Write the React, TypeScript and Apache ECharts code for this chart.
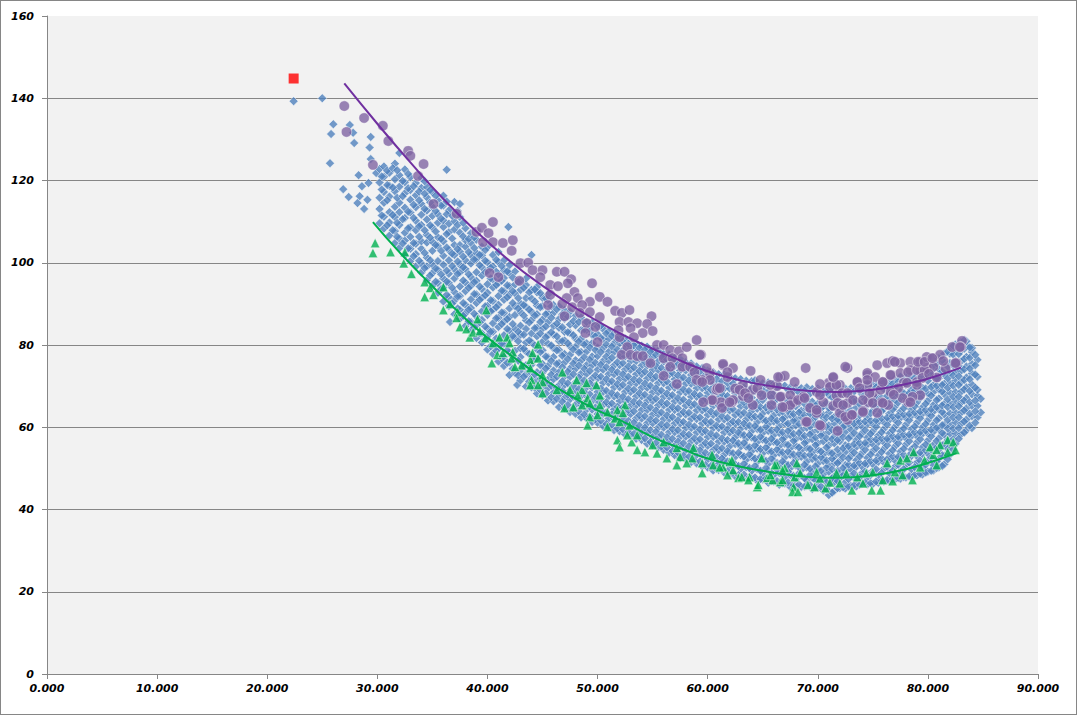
import React, { useEffect, useRef } from "react";
import * as echarts from "echarts";

const xTickValues = [0, 10, 20, 30, 40, 50, 60, 70, 80, 90];
const yTickValues = [0, 20, 40, 60, 80, 100, 120, 140, 160];

const redPoints: [number, number][] = [[22.4, 144.8]];

const blueSparse: [number, number][] = [
  [22.4, 139.3], [25.0, 140.0], [25.7, 124.2], [25.8, 131.3], [26.0, 133.7],
  [26.9, 117.9], [27.4, 116.0], [27.5, 133.5], [27.8, 131.6], [27.9, 129.1],
  [28.2, 114.5], [28.3, 121.3], [28.4, 116.2], [28.6, 118.6], [28.8, 113.1],
  [29.1, 115.3], [29.2, 119.4], [29.3, 128.0], [29.4, 130.6], [29.4, 125.2],
  [29.9, 121.8], [36.6, 85.6], [41.9, 108.7], [36.3, 122.6], [42.7, 70.3],
];

const blueColumns: [number, number[]][] = [
  [30.2, [109.6, 113.1, 115.8, 119.5, 122.8]],
  [30.6, [108.3, 111.2, 114.6, 117.2, 120.9, 123.4]],
  [31.1, [106.6, 109.8, 112.3, 116.1, 118.7, 121.9]],
  [31.6, [104.8, 107.7, 111.1, 113.6, 117.4, 120.3, 124.1]],
  [32.0, [103.6, 105.9, 109.2, 112.3, 114.6, 118.5, 121.3, 126.7]],
  [32.5, [101.8, 105.4, 107.3, 110.9, 113.4, 116.9, 119.6, 122.7]],
  [33.0, [100.4, 103.4, 106.3, 108.6, 112.2, 115.3, 117.7, 120.8]],
  [33.5, [99.1, 102.1, 104.6, 107.9, 110.2, 113.5, 116.4, 119.4]],
  [34.0, [97.6, 99.8, 103.4, 105.2, 109.2, 111.7, 114.3, 118.2, 120.6]],
  [34.5, [95.8, 99.1, 101.3, 104.9, 106.8, 110.5, 112.7, 115.9, 118.4]],
  [35.0, [94.4, 97.5, 99.6, 102.9, 105.1, 108.6, 111.4, 113.6, 117.2]],
  [35.5, [92.7, 95.1, 98.3, 100.4, 104.1, 106.2, 109.7, 111.8, 115.2]],
  [36.0, [90.6, 93.9, 96.2, 99.5, 101.7, 105.2, 108.7, 110.3, 113.9, 116.3]],
  [36.5, [89.5, 91.6, 95.1, 97.3, 100.6, 103.1, 107.4, 109.5, 112.7]],
  [37.0, [87.5, 90.8, 92.9, 96.2, 98.4, 101.9, 104.3, 108.1, 110.1, 114.8]],
  [37.5, [86.4, 88.6, 91.9, 94.2, 97.6, 99.5, 102.7, 104.3, 107.3, 111.1, 114.3]],
  [38.0, [84.6, 87.7, 89.8, 93.1, 95.2, 98.5, 100.6, 103.9, 105.5, 108.4]],
  [38.5, [83.5, 85.6, 89.0, 91.1, 94.4, 96.5, 99.8, 101.9, 104.8, 107.2]],
  [39.0, [81.7, 84.9, 86.9, 90.2, 92.3, 95.6, 97.7, 100.9, 102.4, 105.6]],
  [39.5, [80.6, 82.8, 86.1, 88.2, 91.5, 93.6, 96.9, 98.9, 101.8, 103.9]],
  [40.0, [78.9, 82.1, 84.0, 87.3, 89.5, 92.7, 94.8, 98.0, 100.1, 103.8]],
  [40.5, [77.8, 80.0, 83.2, 85.3, 88.6, 90.7, 94.0, 96.0, 99.1, 101.9]],
  [41.0, [76.0, 79.1, 81.2, 84.4, 86.6, 89.8, 91.9, 95.1, 97.2, 100.2, 102.6]],
  [41.5, [74.9, 77.1, 80.3, 82.4, 85.7, 87.8, 91.0, 93.1, 96.3, 98.2, 100.6]],
  [42.0, [72.7, 75.8, 78.1, 81.3, 83.5, 86.8, 88.9, 92.2, 94.3, 97.5, 99.4]],
  [42.5, [73.2, 76.4, 78.6, 81.9, 84.0, 87.3, 89.4, 92.6, 94.7, 97.9]],
  [43.0, [71.4, 73.8, 77.1, 79.2, 82.5, 84.7, 88.0, 90.1, 93.4, 95.6]],
  [43.5, [69.9, 72.9, 75.1, 78.4, 80.6, 83.9, 86.0, 89.3, 91.4, 94.6, 96.2]],
  [44.0, [69.7, 72.0, 75.2, 77.4, 80.7, 82.8, 86.1, 88.1, 91.3, 93.4, 101.9]],
  [44.5, [68.2, 71.3, 73.4, 76.7, 78.9, 82.1, 84.2, 87.5, 89.6, 92.8, 94.1]],
  [45.0, [67.8, 70.0, 73.3, 75.4, 78.7, 80.8, 84.0, 86.2, 89.4, 91.5]],
  [45.5, [66.5, 69.5, 71.6, 74.9, 77.0, 80.3, 82.4, 85.6, 87.8, 91.0, 92.3]],
  [46.0, [66.3, 68.4, 71.7, 73.8, 77.1, 79.2, 82.5, 84.6, 87.8, 89.7]],
  [46.5, [64.9, 68.0, 70.2, 73.4, 75.6, 78.8, 81.0, 84.2, 86.3, 89.4]],
  [47.0, [64.7, 67.1, 70.3, 72.4, 75.7, 77.8, 81.1, 83.2, 86.4, 88.5]],
  [47.5, [63.7, 66.8, 68.9, 72.2, 74.3, 77.6, 79.7, 82.9, 85.0, 88.1]],
  [48.0, [63.3, 65.5, 68.8, 70.9, 74.2, 76.3, 79.6, 81.6, 84.8, 87.1]],
  [48.5, [62.4, 65.4, 67.6, 70.8, 73.0, 76.2, 78.3, 81.5, 83.6, 86.7]],
  [49.0, [62.2, 64.3, 67.6, 69.7, 73.0, 75.1, 78.4, 80.4, 83.7, 85.6]],
  [49.5, [61.3, 64.3, 66.4, 69.7, 71.8, 75.1, 77.2, 80.4, 82.5, 85.4]],
  [50.0, [61.1, 63.2, 66.5, 68.6, 71.9, 74.0, 77.3, 79.4, 82.6, 84.5]],
  [50.5, [60.3, 63.2, 65.4, 68.6, 70.8, 74.0, 76.1, 79.3, 81.4, 83.9]],
  [51.0, [60.0, 62.1, 65.4, 67.5, 70.8, 72.9, 76.2, 78.3, 81.5, 83.3]],
  [51.5, [59.3, 62.1, 64.3, 67.5, 69.7, 72.9, 75.0, 78.3, 80.4, 82.9]],
  [52.0, [59.0, 61.0, 64.3, 66.4, 69.7, 71.8, 75.1, 77.2, 80.4, 82.1]],
  [52.5, [58.3, 60.9, 63.2, 66.4, 68.6, 71.8, 74.0, 77.2, 79.3, 81.6]],
  [53.0, [58.0, 59.9, 63.2, 65.3, 68.6, 70.7, 74.0, 76.1, 79.3, 80.9]],
  [53.5, [57.2, 59.8, 62.1, 65.3, 67.5, 70.7, 72.9, 76.1, 78.2, 80.5]],
  [54.0, [56.9, 58.8, 62.1, 64.2, 67.5, 69.6, 72.9, 75.0, 78.2, 79.8]],
  [54.5, [56.0, 58.7, 61.0, 64.2, 66.4, 69.6, 71.8, 75.0, 77.1, 79.6]],
  [55.0, [55.7, 57.7, 61.0, 63.1, 66.4, 68.5, 71.8, 73.9, 77.1, 78.9]],
  [55.5, [55.0, 57.6, 59.9, 63.1, 65.3, 68.5, 70.7, 73.9, 76.0, 78.6]],
  [56.0, [54.5, 56.6, 59.9, 62.0, 65.3, 67.4, 70.7, 72.8, 76.0, 77.9]],
  [56.5, [53.8, 56.5, 58.8, 62.0, 64.2, 67.4, 69.6, 72.8, 74.9, 77.6]],
  [57.0, [53.2, 55.5, 58.8, 60.9, 64.2, 66.3, 69.6, 71.7, 74.9, 76.9]],
  [57.5, [52.5, 55.4, 57.7, 60.9, 63.1, 66.3, 68.5, 71.7, 73.8, 76.6]],
  [58.0, [52.2, 54.4, 57.7, 59.8, 63.1, 65.2, 68.5, 70.6, 73.8, 75.8]],
  [58.5, [51.5, 54.3, 56.6, 59.8, 62.0, 65.2, 67.4, 70.6, 72.7, 75.5]],
  [59.0, [51.2, 53.3, 56.6, 58.7, 62.0, 64.1, 67.4, 69.5, 72.7, 74.8]],
  [59.5, [50.5, 53.2, 55.5, 58.7, 60.9, 64.1, 66.3, 69.5, 71.6, 74.4]],
  [60.0, [50.2, 52.2, 55.5, 57.6, 60.9, 63.0, 66.3, 68.4, 71.6, 73.8]],
  [60.5, [49.5, 52.1, 54.4, 57.6, 59.8, 63.0, 65.2, 68.4, 70.5, 73.4]],
  [61.0, [49.6, 51.1, 54.4, 56.5, 59.8, 61.9, 65.2, 67.3, 70.5, 72.9]],
  [61.5, [49.0, 51.7, 53.3, 56.5, 58.7, 61.9, 64.1, 67.3, 69.4, 72.8]],
  [62.0, [48.7, 50.6, 53.9, 55.4, 58.7, 60.8, 64.1, 66.2, 69.4, 72.3]],
  [62.5, [48.1, 50.9, 52.8, 55.9, 57.6, 60.8, 63.0, 66.2, 68.3, 71.9]],
  [63.0, [48.2, 49.9, 53.2, 55.3, 58.3, 59.7, 63.0, 65.1, 68.3, 71.7]],
  [63.5, [47.5, 50.3, 52.1, 55.3, 57.2, 60.2, 61.9, 65.1, 67.2, 71.3]],
  [64.0, [47.7, 49.4, 52.7, 54.2, 57.5, 59.1, 62.4, 64.0, 67.2, 71.2]],
  [64.5, [47.0, 49.8, 51.6, 54.8, 56.4, 59.6, 61.3, 64.5, 66.1, 70.8]],
  [65.0, [47.3, 48.9, 52.2, 53.7, 57.0, 58.6, 61.9, 63.4, 66.6, 69.1, 70.7]],
  [65.5, [46.5, 49.4, 51.1, 54.3, 55.9, 59.1, 60.8, 64.0, 65.5, 68.6, 70.9]],
  [66.0, [46.8, 48.4, 51.7, 53.2, 56.5, 58.1, 61.4, 62.9, 66.1, 68.1, 70.6]],
  [66.5, [46.0, 48.9, 50.6, 53.8, 55.4, 58.6, 60.3, 63.5, 65.0, 67.6, 70.2]],
  [67.0, [46.3, 47.9, 51.2, 52.7, 56.0, 57.6, 60.9, 62.4, 65.6, 67.1, 70.1]],
  [67.5, [45.5, 48.4, 50.1, 53.3, 54.9, 58.1, 59.8, 63.0, 64.5, 66.6, 69.7]],
  [68.0, [45.8, 47.4, 50.7, 52.2, 55.5, 57.1, 60.4, 61.9, 65.1, 66.1, 69.6]],
  [68.5, [45.5, 48.2, 49.6, 52.8, 54.4, 57.6, 59.3, 62.5, 64.0, 67.2, 69.5]],
  [69.0, [45.8, 47.1, 50.2, 51.7, 55.0, 56.6, 59.9, 61.4, 64.6, 66.7, 69.7]],
  [69.5, [45.0, 47.7, 49.1, 52.3, 53.9, 57.1, 58.8, 62.0, 63.5, 66.2, 69.3]],
  [70.0, [45.3, 46.6, 49.7, 51.2, 54.5, 56.1, 59.4, 60.9, 64.1, 65.7, 69.4]],
  [70.5, [44.6, 47.2, 48.6, 51.8, 53.4, 56.6, 58.3, 61.5, 63.0, 65.2, 68.9]],
  [71.0, [43.5, 46.1, 49.2, 50.7, 54.0, 55.6, 58.9, 60.4, 63.6, 64.7, 67.8, 70.0]],
  [71.5, [44.5, 46.7, 48.1, 51.3, 52.9, 56.1, 57.8, 61.0, 62.5, 65.7, 68.7]],
  [72.0, [45.2, 47.6, 48.7, 51.8, 53.5, 56.6, 58.4, 61.5, 63.1, 66.3, 69.3]],
  [72.5, [45.1, 46.6, 49.3, 50.8, 54.0, 55.6, 58.9, 60.4, 63.6, 65.2, 69.4]],
  [73.0, [45.7, 48.2, 49.8, 53.1, 54.6, 57.9, 59.5, 62.6, 64.2, 67.4, 69.5]],
  [73.5, [45.6, 47.2, 50.4, 52.0, 55.2, 56.9, 60.1, 61.6, 64.8, 66.4, 69.6]],
  [74.0, [46.2, 48.8, 50.5, 53.7, 55.3, 58.5, 60.2, 63.4, 64.9, 68.1, 69.8]],
  [74.5, [46.1, 47.8, 51.0, 52.6, 55.8, 57.5, 60.7, 62.3, 65.5, 67.1, 70.2]],
  [75.0, [46.2, 49.4, 51.0, 54.2, 55.9, 59.1, 60.8, 64.0, 65.6, 68.8, 70.3]],
  [75.5, [46.5, 48.3, 51.6, 53.1, 56.4, 58.0, 61.3, 62.8, 66.0, 67.6, 70.7]],
  [76.0, [46.8, 49.9, 51.5, 54.8, 56.4, 59.6, 61.3, 64.5, 66.1, 69.3, 70.8]],
  [76.5, [47.0, 48.8, 52.1, 53.6, 56.9, 58.5, 61.8, 63.3, 66.6, 68.1, 71.3]],
  [77.0, [47.3, 50.4, 52.0, 55.3, 56.9, 60.1, 61.8, 65.0, 66.6, 69.8, 71.8]],
  [77.5, [47.5, 49.2, 52.5, 54.1, 57.4, 59.0, 62.3, 63.8, 67.1, 68.6, 72.3]],
  [78.0, [47.8, 50.9, 52.5, 55.8, 57.4, 60.6, 62.3, 65.5, 67.1, 70.3, 72.2]],
  [78.5, [48.0, 49.8, 53.0, 54.6, 57.9, 59.5, 62.8, 64.3, 67.6, 69.1, 72.7]],
  [79.0, [48.3, 51.4, 53.0, 56.3, 57.9, 61.1, 62.8, 66.0, 67.6, 70.8, 72.8]],
  [79.5, [48.5, 50.3, 53.5, 55.1, 58.4, 60.0, 63.3, 64.8, 68.1, 69.6, 73.3]],
  [80.0, [49.2, 51.9, 53.6, 56.8, 58.5, 61.7, 63.3, 66.5, 68.2, 71.3, 73.8]],
  [80.5, [49.5, 50.8, 54.1, 55.7, 58.9, 60.6, 63.8, 65.4, 68.6, 70.2, 72.6, 74.9]],
  [81.0, [50.2, 52.4, 54.6, 57.3, 59.5, 62.2, 64.4, 67.0, 69.2, 71.9, 74.1, 76.8]],
  [81.5, [51.0, 53.1, 55.8, 58.2, 60.6, 63.1, 65.7, 68.0, 70.6, 72.8, 75.4, 77.9]],
  [82.0, [53.3, 55.6, 58.4, 60.7, 63.4, 65.8, 68.4, 70.7, 73.3, 75.6, 77.9, 79.1]],
  [82.5, [56.0, 58.5, 61.2, 63.6, 66.3, 68.6, 71.3, 73.6, 76.2, 78.6, 80.1]],
  [83.0, [58.3, 60.8, 63.5, 66.0, 68.6, 71.0, 73.7, 76.0, 78.6, 80.7]],
  [83.5, [59.4, 61.9, 64.6, 67.1, 69.7, 72.1, 74.8, 77.1, 79.7, 80.9]],
  [84.0, [59.8, 62.7, 65.2, 68.0, 70.4, 73.1, 75.4, 78.3, 79.3]],
  [84.5, [62.4, 65.2, 67.6, 69.1, 72.3, 76.4]],
  [84.8, [63.6, 66.9]],
];

const blueFillColumns: [number, number[]][] = [
  [30.4, [111.5, 117.8, 121.0]],
  [30.9, [109.1, 115.2, 118.9, 122.4]],
  [31.4, [107.9, 111.6, 118.3, 123.0]],
  [31.8, [106.3, 109.7, 115.8, 122.5]],
  [32.3, [104.7, 110.6, 116.2, 119.9]],
  [32.8, [103.5, 108.4, 112.4, 118.1, 121.6]],
  [33.3, [101.6, 104.8, 110.9, 114.1, 118.6]],
  [33.8, [100.5, 106.3, 108.9, 115.2, 117.3]],
  [34.3, [98.7, 102.4, 107.9, 113.1, 116.8, 119.8]],
  [34.8, [96.9, 100.6, 106.1, 109.1, 114.7, 117.7]],
  [35.3, [95.4, 98.6, 104.3, 107.6, 112.6, 116.3]],
  [35.8, [93.6, 97.2, 102.9, 105.8, 110.7, 113.9]],
  [36.3, [92.2, 95.4, 98.1, 103.7, 107.0, 111.8, 114.9]],
  [36.8, [90.1, 93.9, 99.2, 102.2, 105.9, 111.4]],
  [37.3, [88.9, 91.8, 97.3, 100.3, 103.3, 109.2, 112.6]],
  [37.8, [87.1, 90.2, 95.7, 98.9, 101.5, 106.4, 109.7]],
  [38.3, [85.8, 88.6, 93.9, 97.2, 102.6, 105.8]],
  [38.8, [84.3, 87.6, 92.4, 95.3, 100.8, 103.6, 106.2]],
  [39.3, [82.8, 85.5, 91.0, 94.2, 99.4, 101.9]],
  [39.8, [81.4, 84.5, 89.4, 92.1, 97.7, 100.5, 103.1]],
  [40.3, [79.7, 83.2, 88.2, 90.9, 96.2, 98.8]],
  [40.8, [78.6, 81.6, 86.5, 89.2, 94.6, 97.8, 100.7]],
  [41.3, [76.8, 80.4, 85.1, 87.9, 93.2, 95.6, 99.2]],
  [41.8, [75.7, 78.7, 83.9, 86.3, 91.6, 94.5, 97.9]],
  [42.3, [74.2, 77.3, 82.2, 85.1, 90.2, 93.1, 96.4]],
  [42.8, [72.6, 76.2, 80.9, 83.2, 88.9, 91.4, 95.3]],
  [43.3, [72.3, 74.8, 79.1, 82.5, 87.2, 89.7, 93.9]],
  [43.8, [71.1, 73.7, 77.8, 81.1, 85.5, 88.6, 92.8]],
  [44.3, [69.6, 72.9, 76.5, 79.9, 84.1, 87.2, 90.6, 93.5]],
  [44.8, [69.1, 71.7, 75.1, 78.3, 82.8, 85.6, 89.2, 92.6]],
  [45.3, [68.2, 70.9, 74.3, 77.2, 81.9, 84.5, 87.5, 91.3]],
  [45.8, [67.3, 70.1, 72.8, 76.1, 79.9, 83.1, 86.6, 89.4]],
  [46.3, [66.9, 69.6, 72.3, 75.4, 78.7, 82.1, 85.2, 88.7]],
  [46.8, [66.2, 68.8, 71.2, 74.6, 77.4, 80.9, 84.3, 87.5]],
  [47.3, [65.4, 67.9, 70.7, 73.5, 76.6, 80.4, 83.1, 86.9]],
  [47.8, [64.5, 67.4, 70.0, 72.9, 75.5, 78.9, 82.4, 85.8]],
  [48.3, [63.9, 66.5, 69.3, 72.1, 75.0, 78.2, 80.8, 85.6]],
  [48.8, [63.1, 65.9, 68.5, 71.4, 74.2, 77.0, 80.1, 83.8]],
  [49.3, [62.6, 65.1, 68.0, 70.7, 73.7, 76.4, 79.4, 83.9]],
  [49.8, [61.9, 64.8, 67.3, 70.1, 72.6, 75.7, 78.8, 82.1]],
  [50.3, [61.6, 64.2, 66.9, 69.4, 72.3, 75.2, 78.3, 81.7, 84.7]],
  [50.8, [60.8, 63.6, 66.1, 68.9, 71.7, 74.6, 77.2, 80.1, 82.8]],
  [51.3, [60.6, 63.1, 65.8, 68.3, 71.2, 74.0, 76.9, 79.6, 82.2]],
  [51.8, [59.7, 62.8, 65.0, 67.8, 70.5, 73.4, 75.8, 78.9, 81.3]],
  [52.3, [59.5, 62.2, 64.8, 67.4, 70.3, 72.9, 75.6, 78.6, 80.9]],
  [52.8, [58.8, 61.6, 64.2, 66.8, 69.4, 72.3, 74.8, 77.9, 80.3]],
  [53.3, [58.4, 61.1, 63.9, 66.2, 69.1, 71.6, 74.5, 77.3, 79.9]],
  [53.8, [57.6, 60.4, 62.9, 65.9, 68.3, 71.3, 73.7, 76.7, 79.3]],
  [54.3, [57.3, 59.9, 62.7, 65.3, 67.9, 70.6, 73.5, 75.9, 78.8]],
  [54.8, [56.4, 59.3, 61.9, 64.8, 67.2, 70.1, 72.7, 75.6, 78.3]],
  [55.3, [56.2, 58.9, 61.6, 64.1, 66.9, 69.5, 72.3, 74.9, 77.6]],
  [55.8, [55.3, 58.2, 60.7, 63.6, 66.1, 68.9, 71.5, 74.4, 77.2]],
  [56.3, [55.1, 57.6, 60.5, 62.9, 65.8, 68.2, 71.1, 73.8, 76.5]],
  [56.8, [54.2, 57.2, 59.6, 62.5, 64.9, 67.8, 70.3, 73.2, 76.1]],
  [57.3, [53.9, 56.5, 59.3, 61.7, 64.6, 67.1, 69.9, 72.6, 75.4]],
  [57.8, [53.1, 56.1, 58.4, 61.3, 63.7, 66.7, 69.2, 72.1, 74.9]],
  [58.3, [52.8, 55.4, 58.2, 60.6, 63.5, 66.0, 68.8, 71.4, 74.3]],
  [58.8, [51.9, 54.9, 57.3, 60.2, 62.6, 65.6, 68.1, 70.9, 73.8]],
  [59.3, [51.7, 54.4, 57.1, 59.5, 62.4, 64.9, 67.7, 70.3, 73.3]],
  [59.8, [50.8, 53.8, 56.2, 59.1, 61.5, 64.5, 67.0, 69.8, 72.7]],
  [60.3, [50.6, 53.3, 56.0, 58.4, 61.3, 63.8, 66.6, 69.2, 72.3]],
  [60.8, [49.9, 52.7, 55.1, 58.0, 60.4, 63.4, 65.9, 68.7, 71.7]],
  [61.3, [49.7, 52.4, 54.9, 57.3, 60.2, 62.7, 65.5, 68.1, 71.2]],
  [61.8, [49.3, 51.7, 54.2, 56.9, 59.5, 62.3, 64.8, 67.6, 70.8]],
  [62.3, [48.9, 51.5, 53.7, 56.8, 59.2, 61.4, 64.4, 66.9, 70.6]],
  [62.8, [48.4, 50.6, 53.8, 56.1, 58.7, 61.3, 63.6, 66.7, 69.9]],
  [63.3, [48.5, 51.1, 52.9, 56.2, 58.1, 60.9, 63.5, 66.1, 69.7]],
  [63.8, [47.9, 50.1, 53.4, 55.1, 58.1, 60.4, 62.9, 65.8, 69.1]],
  [64.3, [47.8, 50.6, 52.4, 55.6, 57.2, 60.3, 62.6, 65.2, 68.8, 71.4]],
  [64.8, [47.4, 49.4, 52.8, 54.7, 57.7, 59.4, 62.6, 64.9, 68.2]],
  [65.3, [47.6, 50.1, 51.8, 55.1, 56.8, 60.1, 61.6, 64.8, 67.6, 70.4]],
  [65.8, [46.9, 48.9, 52.4, 54.1, 57.2, 59.2, 62.1, 64.5, 67.2]],
  [66.3, [46.9, 49.7, 51.3, 54.6, 56.3, 59.4, 61.6, 64.3, 66.9, 69.8]],
  [66.8, [46.4, 48.6, 51.7, 53.9, 57.1, 58.8, 62.0, 63.8, 66.4]],
  [67.3, [46.6, 49.2, 50.8, 54.1, 55.7, 59.1, 60.9, 63.9, 66.2, 69.1]],
  [67.8, [45.9, 48.2, 51.3, 53.4, 56.7, 58.4, 61.6, 63.2, 65.6, 68.8]],
  [68.3, [46.1, 48.8, 50.3, 53.5, 55.1, 58.6, 60.8, 63.6, 65.9, 68.4]],
  [68.8, [45.6, 47.6, 50.9, 53.1, 56.2, 57.9, 61.2, 62.9, 65.7, 68.9]],
  [69.3, [45.9, 48.4, 49.9, 53.3, 54.7, 58.3, 60.2, 63.3, 65.4, 68.2]],
  [69.8, [45.4, 47.1, 50.5, 52.6, 55.7, 57.5, 60.7, 62.5, 65.3, 68.3]],
  [70.3, [45.6, 48.1, 49.4, 52.7, 54.1, 58.0, 59.7, 62.9, 64.6, 67.9]],
  [70.8, [44.9, 46.6, 50.2, 51.9, 55.1, 57.3, 60.1, 62.4, 65.9, 68.5]],
  [71.3, [44.1, 47.6, 49.8, 52.4, 53.7, 57.1, 59.4, 62.1, 64.8, 67.3, 69.4]],
  [71.8, [45.2, 46.9, 49.5, 51.3, 54.6, 56.9, 59.7, 61.9, 64.9, 67.8]],
  [72.3, [45.4, 48.3, 50.1, 52.7, 54.9, 57.6, 60.1, 62.5, 65.1, 68.1]],
  [72.8, [45.6, 47.4, 50.9, 52.4, 55.4, 57.3, 60.9, 62.6, 66.1, 68.6]],
  [73.3, [45.9, 48.8, 50.7, 53.8, 55.9, 58.6, 60.9, 63.4, 66.2, 68.7]],
  [73.8, [46.0, 47.8, 51.3, 52.9, 56.2, 57.8, 61.3, 62.9, 65.7, 68.9]],
  [74.3, [46.5, 49.3, 51.2, 54.5, 56.2, 59.3, 61.4, 64.2, 66.8, 69.2]],
  [74.8, [46.4, 48.4, 51.8, 53.4, 57.0, 58.4, 61.6, 63.4, 66.6, 69.5]],
  [75.3, [46.8, 49.8, 51.9, 54.9, 57.0, 60.1, 61.7, 65.0, 67.0, 69.7]],
  [75.8, [47.0, 48.9, 52.4, 54.0, 57.3, 58.8, 62.2, 63.9, 67.1, 69.9]],
  [76.3, [47.2, 50.4, 52.2, 55.6, 57.2, 60.6, 62.3, 65.3, 67.6, 70.3]],
  [76.8, [47.4, 49.4, 52.9, 54.4, 57.8, 59.3, 62.7, 64.3, 67.8, 70.6]],
  [77.3, [47.7, 50.9, 52.8, 56.1, 57.7, 61.1, 62.8, 66.0, 67.9, 71.0]],
  [77.8, [47.9, 49.8, 53.3, 54.8, 58.2, 59.7, 63.1, 64.6, 68.3, 71.4]],
  [78.3, [48.1, 51.4, 53.2, 56.6, 58.2, 61.7, 63.2, 66.6, 68.3, 71.7]],
  [78.8, [48.4, 50.3, 53.7, 55.3, 58.8, 60.2, 63.6, 65.1, 68.9, 71.9]],
  [79.3, [48.7, 51.9, 53.9, 57.1, 58.8, 62.2, 63.8, 67.1, 68.9, 72.4]],
  [79.8, [49.0, 50.9, 54.4, 55.8, 59.2, 60.8, 64.2, 65.7, 69.4, 72.8]],
  [80.3, [49.4, 52.6, 54.6, 57.8, 59.4, 62.8, 64.4, 67.7, 69.8, 73.6]],
  [80.8, [50.1, 51.7, 55.1, 56.7, 59.9, 61.7, 64.9, 66.6, 70.1, 71.9, 75.5]],
  [81.3, [50.6, 53.2, 55.6, 58.6, 60.5, 63.7, 65.3, 68.7, 70.3, 73.6, 76.3]],
  [81.8, [52.2, 54.8, 56.9, 59.7, 61.8, 64.9, 66.8, 69.6, 71.9, 74.8, 78.4]],
  [82.3, [54.6, 57.1, 59.7, 62.4, 64.9, 67.4, 70.1, 72.6, 75.1, 77.7, 79.8]],
  [82.8, [57.2, 59.8, 62.4, 65.1, 67.4, 70.3, 72.4, 74.9, 77.8, 80.3]],
  [83.3, [58.7, 61.4, 64.1, 66.5, 69.2, 71.5, 74.1, 76.6, 79.1, 81.2]],
  [83.8, [60.4, 63.3, 66.1, 68.8, 71.7, 74.3, 76.9, 79.4]],
  [84.3, [61.1, 63.9, 66.5, 69.6, 72.8, 75.1, 77.6]],
];

const purplePoints: [number, number][] = [
  [27.0, 138.1], [27.2, 131.8], [28.8, 135.2], [30.5, 133.3], [31.0, 129.6], [32.8, 127.2],
  [33.0, 126.0], [29.6, 123.8], [34.2, 124.0], [33.7, 121.1], [35.1, 114.3], [37.2, 111.9],
  [39.0, 107.5], [39.5, 108.5], [40.5, 109.9], [40.1, 107.2], [39.6, 105.0], [40.5, 105.0],
  [41.4, 104.8], [42.3, 105.5], [42.2, 102.9], [40.2, 97.5], [41.0, 96.5], [43.0, 99.9],
  [43.7, 100.0], [44.1, 98.2], [45.0, 98.2], [42.9, 95.6], [44.8, 96.5], [46.3, 97.8],
  [47.0, 97.8], [47.6, 96.0], [45.7, 94.6], [47.3, 95.0], [46.4, 94.3], [49.5, 95.0],
  [47.9, 92.9], [45.7, 92.2], [47.2, 91.4], [48.2, 91.4], [49.3, 90.5], [50.2, 91.7],
  [50.9, 90.5], [45.5, 89.7], [46.8, 90.0], [47.7, 89.2], [48.6, 89.7], [48.4, 87.8],
  [49.3, 88.0], [50.2, 86.8], [47.0, 87.0], [49.0, 85.3], [49.8, 84.4], [48.9, 82.9],
  [50.0, 80.7], [51.6, 88.3], [52.2, 87.8], [52.9, 88.5], [54.9, 87.0], [52.0, 85.6],
  [52.8, 85.6], [53.6, 85.3], [54.5, 85.1], [51.9, 83.6], [53.0, 84.1], [55.0, 83.4],
  [54.1, 82.9], [52.0, 81.9], [53.3, 81.9], [52.7, 79.5], [52.2, 77.6], [53.0, 77.6],
  [53.6, 77.3], [54.1, 77.3], [54.8, 75.6], [55.4, 80.0], [56.0, 80.0], [56.6, 78.8],
  [57.4, 78.5], [58.1, 79.5], [59.0, 81.2], [59.4, 77.6], [56.0, 76.8], [56.8, 76.8],
  [57.7, 76.8], [56.6, 74.7], [57.7, 74.7], [58.4, 74.7], [56.0, 72.5], [57.2, 70.5],
  [58.8, 73.4], [59.5, 71.5], [60.2, 73.2], [60.8, 69.1], [60.5, 66.6], [61.2, 66.1],
  [62.2, 66.1], [61.4, 75.1], [62.3, 74.4], [61.8, 72.2], [63.9, 73.7], [60.9, 69.5],
  [61.3, 64.7], [63.2, 70.3], [64.1, 69.1], [63.2, 67.6], [64.1, 65.4], [66.6, 72.2],
  [67.0, 72.5], [67.9, 71.0], [68.9, 74.4], [66.3, 70.0], [65.8, 67.8], [66.7, 67.4],
  [67.8, 66.1], [68.7, 67.4], [65.8, 65.4], [67.0, 64.9], [69.3, 64.7], [69.9, 63.5],
  [68.9, 61.3], [70.3, 60.3], [71.8, 59.1], [69.9, 68.6], [70.5, 66.1], [71.0, 70.8],
  [71.4, 72.0], [72.0, 70.3], [72.7, 74.4], [71.7, 67.8], [72.7, 65.9], [71.4, 65.2],
  [72.0, 63.5], [73.1, 63.0], [72.7, 61.8], [73.6, 71.0], [74.5, 72.7], [75.4, 75.1],
  [76.3, 75.6], [76.8, 76.1], [77.5, 75.6], [78.4, 75.9], [79.3, 75.9], [79.9, 77.1],
  [80.5, 76.8], [81.1, 77.6], [82.2, 79.5], [83.1, 81.0], [83.0, 79.5], [82.6, 75.6],
  [74.5, 70.3], [75.0, 68.3], [75.9, 71.0], [76.7, 72.7], [77.5, 73.2], [78.4, 73.9],
  [79.3, 73.9], [79.0, 71.0], [77.8, 70.8], [79.9, 74.4], [80.5, 74.7], [79.3, 67.8],
  [78.2, 66.1], [75.8, 66.1], [76.4, 65.4], [74.1, 64.0], [74.6, 66.1], [59.9, 74.4],
  [59.3, 77.6], [62.5, 69.4], [64.8, 71.5], [70.2, 70.5], [81.6, 74.3], [80.8, 72.1],
];

const purplePointsRight: [number, number][] = [
  [61.4, 75.4], [61.8, 73.4], [59.0, 71.5], [60.2, 71.5], [59.5, 71.0], [61.1, 69.5],
  [62.9, 69.1], [63.4, 68.3], [64.5, 69.5], [64.9, 67.8], [65.7, 70.3], [66.4, 72.2],
  [66.6, 67.4], [67.5, 67.8], [67.5, 65.4], [68.2, 66.6], [68.8, 67.1], [66.8, 64.9],
  [63.7, 67.1], [62.3, 66.6], [62.0, 66.1], [60.4, 66.6], [59.6, 66.1], [70.2, 67.8],
  [71.1, 69.8], [71.7, 70.3], [72.2, 68.3], [71.4, 72.2], [72.5, 74.7], [69.9, 64.2],
  [69.0, 61.3], [70.2, 60.5], [71.8, 65.9], [72.5, 62.5], [73.6, 71.0], [74.5, 73.2],
  [75.2, 72.2], [76.6, 72.7], [78.2, 73.4], [79.0, 73.9], [79.7, 73.9], [79.5, 72.0],
  [78.1, 70.8], [77.3, 69.5], [76.6, 68.6], [75.7, 69.1], [74.7, 68.3], [73.8, 69.5],
  [72.7, 68.3], [72.3, 65.4], [73.2, 66.6], [74.1, 66.6], [75.0, 65.9], [75.9, 65.9],
  [75.4, 63.5], [74.1, 63.7], [73.1, 63.0], [78.6, 67.4], [77.7, 67.1], [76.9, 67.9],
  [78.4, 66.1], [79.0, 70.3], [77.0, 75.9], [79.1, 75.9], [79.7, 75.9], [80.4, 76.8],
  [82.9, 79.5], [82.5, 75.6], [74.5, 71.5], [75.9, 71.0], [81.4, 76.1], [80.1, 73.0],
];

const greenPoints: [number, number][] = [
  [29.8, 104.8], [29.6, 102.4], [31.2, 102.6], [32.5, 102.6], [32.4, 99.9], [33.1, 97.3],
  [34.3, 95.3], [34.8, 93.9], [36.0, 94.1], [34.3, 91.7], [35.1, 92.2], [36.0, 88.5],
  [36.6, 90.0], [37.3, 88.0], [37.2, 86.6], [37.5, 84.4], [38.1, 83.9], [38.4, 81.9],
  [39.1, 86.3], [39.9, 88.5], [38.7, 83.1], [39.3, 83.4], [39.8, 81.7], [40.5, 80.5],
  [41.1, 81.9], [41.8, 81.9], [40.9, 77.6], [40.4, 75.6], [41.4, 78.1], [42.0, 80.5],
  [42.3, 78.3], [42.2, 76.8], [43.1, 75.1], [42.5, 74.7], [43.9, 76.4], [44.6, 80.2],
  [44.1, 78.1], [44.6, 76.8], [43.9, 74.4], [45.0, 72.7], [44.0, 71.5], [45.0, 71.0],
  [43.9, 70.3], [44.6, 70.3], [46.8, 73.4], [48.1, 71.5], [46.3, 69.1], [45.0, 68.3],
  [48.6, 69.1], [47.5, 69.1], [49.0, 70.8], [49.9, 70.3], [48.2, 67.8], [49.1, 67.1],
  [50.2, 67.8], [47.0, 64.7], [47.8, 64.9], [48.6, 65.4], [49.3, 65.9], [50.2, 65.4],
  [49.3, 62.5], [50.0, 63.0], [49.1, 60.5], [50.9, 63.7], [51.8, 64.2], [52.5, 65.4],
  [52.3, 63.5], [51.6, 62.2], [52.0, 61.3], [52.9, 60.5], [50.9, 60.1], [51.8, 56.9],
  [52.0, 55.2], [53.1, 56.4], [52.7, 58.1], [53.6, 58.1], [54.3, 54.0], [53.6, 54.5],
  [55.4, 53.7], [55.0, 55.7], [56.3, 52.5], [56.0, 56.4], [57.2, 55.0], [57.5, 52.8],
  [57.2, 50.8], [58.7, 55.0], [58.6, 52.5], [58.1, 51.3], [59.5, 51.3], [59.5, 48.9],
  [60.4, 53.3], [60.5, 50.8], [61.4, 50.3], [62.0, 51.6], [62.3, 49.6], [62.8, 47.7],
  [63.8, 47.9], [64.5, 45.5], [64.9, 52.5], [65.4, 47.7], [66.3, 50.8], [65.9, 47.2],
  [66.6, 46.7], [67.0, 50.1], [67.8, 45.5], [67.9, 47.9], [61.1, 50.3], [62.2, 52.0],
  [61.8, 48.4], [63.1, 47.9], [63.7, 47.2], [64.6, 46.0], [66.1, 50.8], [65.7, 48.4],
  [66.8, 49.6], [66.8, 47.2], [67.7, 44.3], [68.2, 44.3], [68.1, 51.3], [68.4, 48.9],
  [69.1, 46.0], [69.7, 45.5], [69.9, 49.1], [70.7, 45.2], [71.7, 48.9], [72.0, 46.4],
  [73.1, 44.7], [73.6, 47.9], [74.1, 46.4], [74.9, 44.7], [75.0, 49.1], [75.7, 44.7],
  [75.9, 47.2], [76.3, 51.3], [77.0, 49.1], [77.5, 52.0], [78.1, 52.5], [78.6, 47.2],
  [78.7, 54.0], [79.3, 50.3], [79.7, 52.0], [80.2, 55.2], [80.5, 53.3], [80.8, 50.8],
  [81.1, 55.7], [81.8, 56.9], [82.3, 56.4], [82.5, 54.5], [81.8, 54.0], [80.8, 54.5],
  [70.2, 47.6], [71.1, 46.6], [72.6, 48.8], [74.4, 48.9], [76.8, 46.9], [77.7, 48.4],
];

const purpleTrend: [number, number][] = [
  [27, 143.6], [30, 133.8], [33, 124.4], [36, 115.5], [39, 107.6], [42, 100.5], [45, 94.4],
  [48, 89.0], [51, 84.3], [54, 80.3], [57, 76.8], [60, 73.6], [63, 71.4], [66, 69.9],
  [69, 68.9], [72, 68.6], [75, 69.1], [78, 70.5], [80, 71.8], [83, 74.5],
];

const greenTrend: [number, number][] = [
  [29.6, 109.9], [32, 102.6], [35, 94.3], [38, 86.4], [40, 81.8], [43, 75.8], [45, 72.0],
  [47, 68.5], [50, 64.1], [52, 61.8], [55, 57.6], [58, 54.4], [60, 52.4], [63, 50.4],
  [65, 49.4], [68, 48.2], [70, 47.8], [72, 47.7], [75, 48.3], [78, 49.8], [80, 51.3], [82.6, 53.7],
];

const labelFont = {
  fontFamily: "DejaVu Sans",
  fontWeight: "bold" as const,
  fontStyle: "italic" as const,
  fontSize: 11,
  color: "#000000",
};

export default function App() {
  const ref = useRef<HTMLDivElement>(null);

  useEffect(() => {
    document.body.style.margin = "0";
    if (!ref.current) return;
    const chart = echarts.init(ref.current, undefined, { renderer: "svg" });

    const blueData: [number, number][] = [...blueSparse];
    blueColumns.forEach(([x, ys]) => ys.forEach((y) => blueData.push([x, y])));
    blueFillColumns.forEach(([x, ys]) => ys.forEach((y) => blueData.push([x, y])));
    const purpleData: [number, number][] = [...purplePoints, ...purplePointsRight];

    chart.setOption({
      animation: false,
      backgroundColor: "#ffffff",
      grid: {
        left: 46,
        right: 38,
        top: 15,
        bottom: 40,
        show: true,
        backgroundColor: "#f2f2f2",
        borderWidth: 0,
      },
      xAxis: {
        type: "value",
        min: 0,
        max: 90,
        interval: 10,
        axisLine: { show: true, onZero: false, lineStyle: { color: "#868686", width: 1 } },
        axisTick: { show: true, length: 5, lineStyle: { color: "#868686" } },
        splitLine: { show: false },
        axisLabel: {
          ...labelFont,
          margin: 9,
          formatter: (v: number) => (xTickValues.includes(v) ? v.toFixed(3) : ""),
        },
      },
      yAxis: {
        type: "value",
        min: 0,
        max: 160,
        interval: 20,
        axisLine: { show: true, lineStyle: { color: "#868686", width: 1 } },
        axisTick: { show: true, length: 5, lineStyle: { color: "#868686" } },
        splitLine: { show: true, showMaxLine: false, lineStyle: { color: "#868686", width: 1 } },
        axisLabel: {
          ...labelFont,
          margin: 13,
          formatter: (v: number) => (yTickValues.includes(v) ? String(v) : ""),
        },
      },
      series: [
        {
          type: "scatter",
          data: blueData,
          symbol: "diamond",
          symbolSize: 9,
          itemStyle: { color: "#4f81bd", borderColor: "#ffffff", borderWidth: 0.6 },
          z: 2,
        },
        {
          type: "scatter",
          data: purpleData,
          symbol: "circle",
          symbolSize: 10.5,
          itemStyle: { color: "#8064a2", borderColor: "#ffffff", borderWidth: 0.6 },
          z: 3,
        },
        {
          type: "scatter",
          data: greenPoints,
          symbol: "triangle",
          symbolSize: 9.5,
          itemStyle: { color: "#00b050", borderColor: "#ffffff", borderWidth: 0.6 },
          z: 4,
        },
        {
          type: "scatter",
          data: redPoints,
          symbol: "rect",
          symbolSize: 10,
          itemStyle: { color: "#ff0000" },
          z: 5,
        },
        {
          type: "line",
          data: purpleTrend,
          smooth: true,
          showSymbol: false,
          symbol: "none",
          lineStyle: { color: "#7030a0", width: 2 },
          z: 6,
        },
        {
          type: "line",
          data: greenTrend,
          smooth: true,
          showSymbol: false,
          symbol: "none",
          lineStyle: { color: "#00b050", width: 2 },
          z: 6,
        },
      ],
    });

    return () => chart.dispose();
  }, []);

  return (
    <div
      style={{
        width: 1077,
        height: 715,
        boxSizing: "border-box",
        border: "1px solid #868686",
        background: "#ffffff",
      }}
    >
      <div ref={ref} style={{ width: 1075, height: 713 }} />
    </div>
  );
}
